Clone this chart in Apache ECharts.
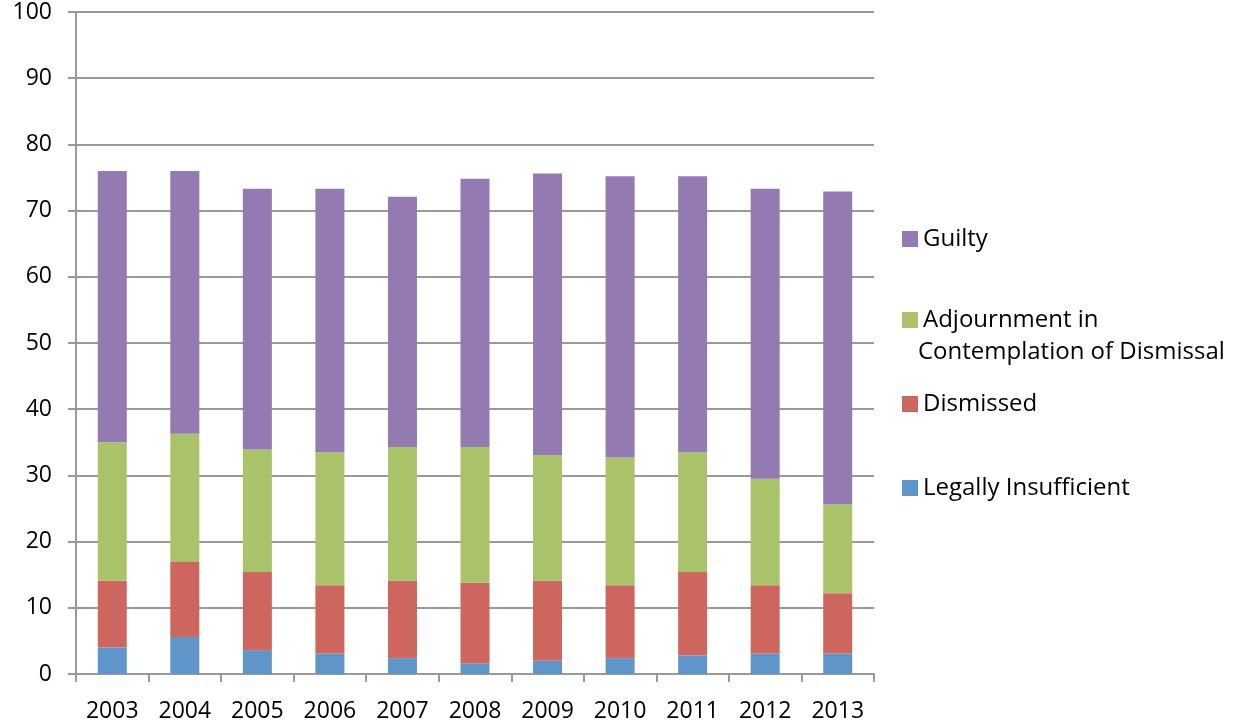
<!DOCTYPE html>
<html>
<head>
<meta charset="utf-8">
<script src="https://cdn.jsdelivr.net/npm/echarts@6/dist/echarts.min.js"></script>
<style>html,body{margin:0;padding:0;background:#fff}#c{width:1236px;height:725px}</style>
</head>
<body>
<div id="c"></div>
<script>
var years = ['2003','2004','2005','2006','2007','2008','2009','2010','2011','2012','2013'];
var legallyInsufficient = [4.0, 5.6, 3.6, 3.1, 2.4, 1.6, 2.0, 2.4, 2.8, 3.1, 3.1];
var dismissed = [10.1, 11.3, 11.8, 10.3, 11.7, 12.2, 12.1, 11.0, 12.6, 10.3, 9.1];
var adjournment = [20.9, 19.4, 18.5, 20.1, 20.2, 20.5, 19.0, 19.3, 18.1, 16.1, 13.4];
var guilty = [41.0, 39.7, 39.4, 39.8, 37.8, 40.5, 42.5, 42.5, 41.7, 43.8, 47.3];
var yTicks = [0, 10, 20, 30, 40, 50, 60, 70, 80, 90, 100];

var FONT = 'Open Sans';
var colors = {
  li: '#6095CA', dis: '#CC665E', acd: '#AAC36B', g: '#937BB2'
};
function legendAt(name, top, fmt) {
  return {
    data: [name], left: 897, top: top, orient: 'vertical',
    itemWidth: 16, itemHeight: 16, itemGap: 0,
    icon: 'rect',
    formatter: fmt || undefined,
    textStyle: { fontFamily: FONT, fontSize: 24, color: '#000' },
    selectedMode: false
  };
}
var ACD = 'Adjournment in Contemplation of Dismissal';
var chart = echarts.init(document.getElementById('c'));
chart.setOption({
  animation: false,
  grid: { left: 76, right: 362, top: 12, bottom: 51, containLabel: false },
  legend: [
    legendAt('Guilty', 222),
    legendAt(ACD, 303, function(){ return 'Adjournment in'; }),
    legendAt('Dismissed', 387),
    legendAt('Legally Insufficient', 471)
  ],
  graphic: [{
    type: 'text', left: 918, top: 340,
    style: { text: 'Contemplation of Dismissal', font: '24px "' + FONT + '"', fill: '#000' }
  }],
  xAxis: {
    type: 'category', data: years,
    axisLine: { lineStyle: { color: '#999', width: 2 } },
    axisTick: { show: true, length: 8, lineStyle: { color: '#999', width: 2 } },
    axisLabel: { fontFamily: FONT, fontSize: 23, color: '#000', margin: 26 }
  },
  yAxis: {
    type: 'value', min: 0, max: 100, interval: 10,
    axisLine: { show: true, lineStyle: { color: '#999', width: 2 } },
    axisTick: { show: true, length: 8, lineStyle: { color: '#999', width: 2 } },
    splitLine: { lineStyle: { color: '#999', width: 2 } },
    axisLabel: { fontFamily: FONT, fontSize: 23, color: '#000', margin: 24,
      formatter: function(v){ return yTicks.indexOf(v) >= 0 ? String(v) : ''; } }
  },
  series: [
    { name: 'Legally Insufficient', type: 'bar', stack: 't', data: legallyInsufficient, barWidth: '40%', itemStyle: { color: colors.li } },
    { name: 'Dismissed', type: 'bar', stack: 't', data: dismissed, itemStyle: { color: colors.dis } },
    { name: ACD, type: 'bar', stack: 't', data: adjournment, itemStyle: { color: colors.acd } },
    { name: 'Guilty', type: 'bar', stack: 't', data: guilty, itemStyle: { color: colors.g } }
  ]
});
</script>
</body>
</html>
